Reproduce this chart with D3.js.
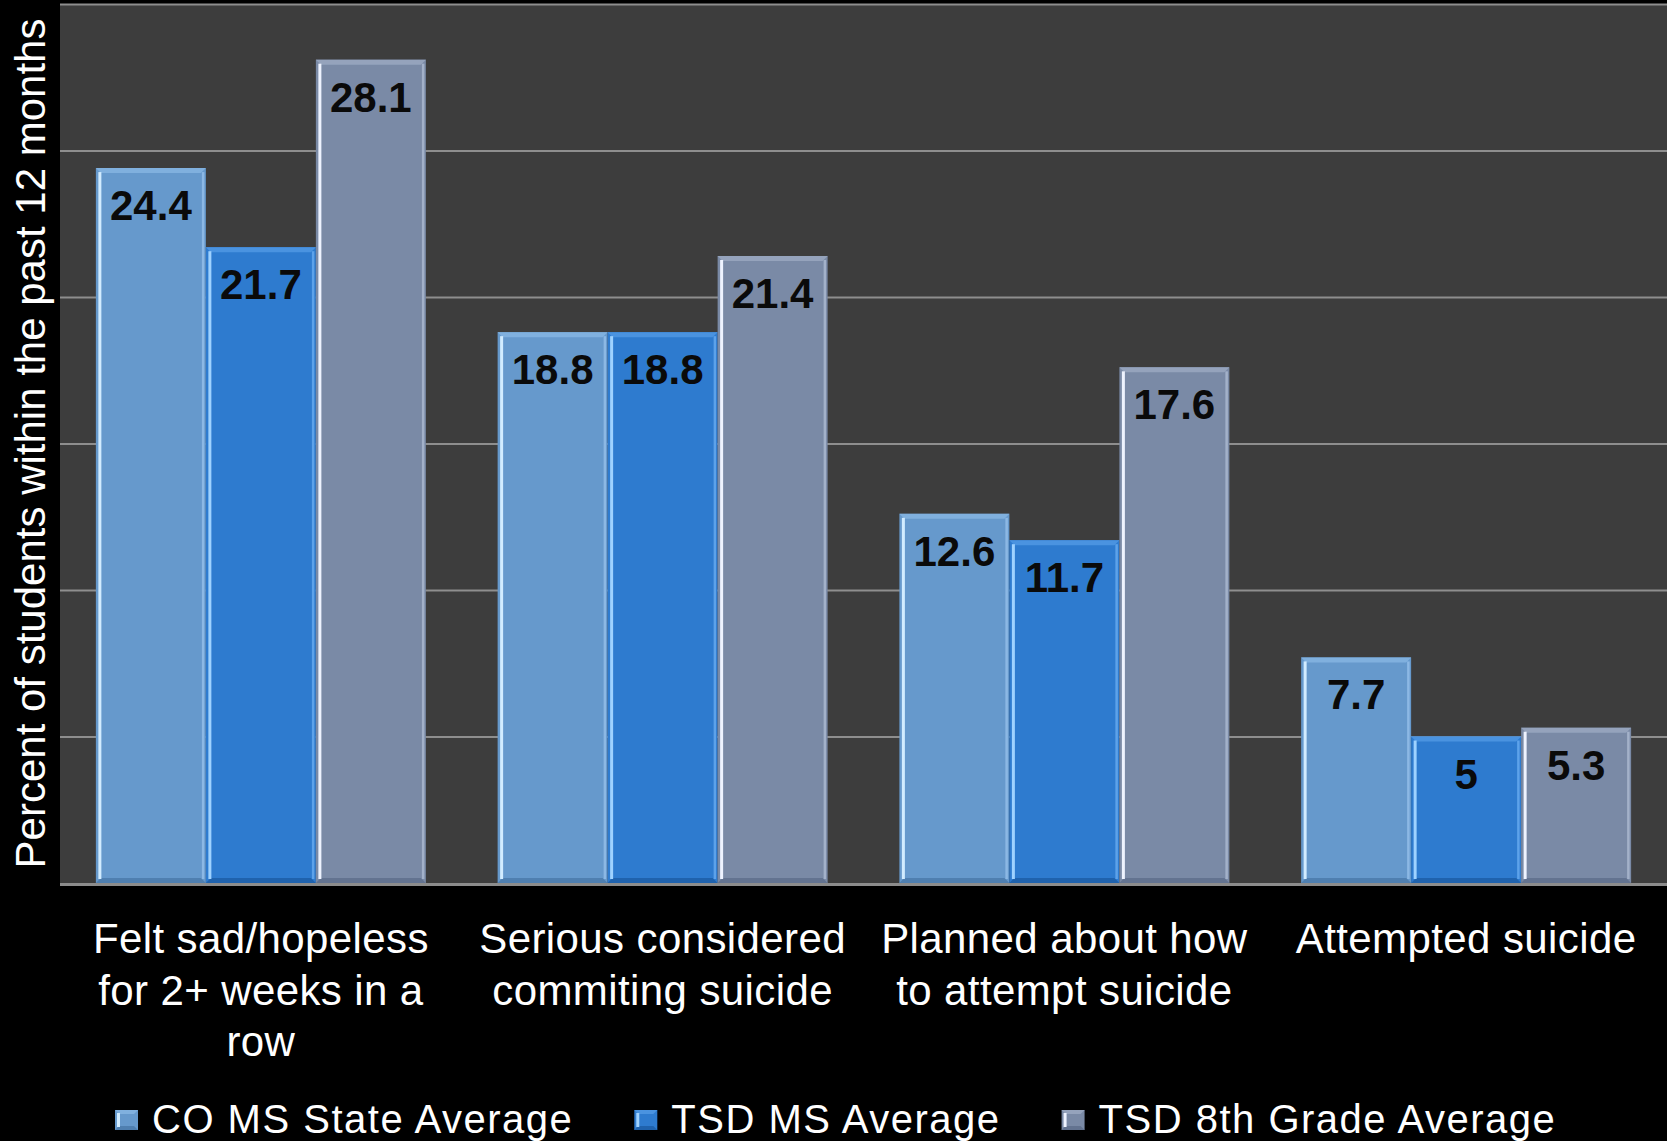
<!DOCTYPE html>
<html>
<head>
<meta charset="utf-8">
<script src="https://cdn.jsdelivr.net/npm/d3@7"></script>
<style>
  html, body { margin: 0; padding: 0; background: #000; }
  svg { display: block; }
</style>
</head>
<body>
<svg id="chart" width="1667" height="1141"></svg>
<script>
// ---- data ----
const categories = [
  "Felt sad/hopeless for 2+ weeks in a row",
  "Serious considered commiting suicide",
  "Planned about how to attempt suicide",
  "Attempted suicide"
];
const categoryLines = [
  ["Felt sad/hopeless", "for 2+ weeks in a", "row"],
  ["Serious considered", "commiting suicide"],
  ["Planned about how", "to attempt suicide"],
  ["Attempted suicide"]
];
const seriesNames = ["CO MS State Average", "TSD MS Average", "TSD 8th Grade Average"];
const coStateAvg = [24.4, 18.8, 12.6, 7.7];
const tsdMsAvg = [21.7, 18.8, 11.7, 5];
const tsd8thAvg = [28.1, 21.4, 17.6, 5.3];
const yTicks = [0, 5, 10, 15, 20, 25, 30];
const yTitle = "Percent of students within the past 12 months";

// ---- styles ----
const fills = ["#6699cc", "#2e7bcf", "#7a8aa6"];
const highlights = ["#d2ecff", "#9fd2ff", "#eef3ff"];
const topBevel = ["#80b0de", "#4a93e0", "#95a3bc"];
const bottomBevel = ["#4f7fb0", "#1f62ad", "#637390"];
const rightEdge = ["#8cb8e4", "#5da2ea", "#a3b1c9"];

const svg = d3.select("#chart");
const W = 1667, H = 1141;
const plot = { left: 60, right: 1667, top: 4, bottom: 883 };

svg.append("rect").attr("x", 0).attr("y", 0).attr("width", W).attr("height", H).attr("fill", "#000");
svg.append("rect")
  .attr("x", plot.left).attr("y", plot.top)
  .attr("width", plot.right - plot.left).attr("height", plot.bottom - plot.top)
  .attr("fill", "#3d3d3d");

const x0 = d3.scaleBand().domain(categories).range([plot.left, plot.right])
  .paddingInner(0.1786).paddingOuter(0.0893);
const x1 = d3.scaleBand().domain(seriesNames).range([0, x0.bandwidth()]).padding(0);
const y = d3.scaleLinear().domain([0, 30]).range([plot.bottom, plot.top]);

// gridlines
const gridAxis = d3.axisLeft(y).tickValues(yTicks.filter(t => t > 0))
  .tickSize(-(plot.right - plot.left)).tickFormat("");
const gg = svg.append("g").attr("transform", `translate(${plot.left},0)`).call(gridAxis);
gg.select(".domain").remove();
gg.selectAll(".tick line").attr("stroke", "#8e8e8e").attr("stroke-width", 2);

// bars
const seriesVals = [coStateAvg, tsdMsAvg, tsd8thAvg];
const barData = [];
categories.forEach((c, ci) => {
  seriesNames.forEach((s, si) => {
    barData.push({ cat: c, ser: s, si, v: seriesVals[si][ci] });
  });
});

const bars = svg.append("g").selectAll("g.bar").data(barData).join("g").attr("class", "bar");
bars.each(function (d) {
  const g = d3.select(this);
  const bx = x0(d.cat) + x1(d.ser);
  const bw = x1.bandwidth();
  const by = y(d.v);
  const bh = y(0) - by;
  g.append("rect").attr("x", bx).attr("y", by).attr("width", bw).attr("height", bh).attr("fill", fills[d.si]);
  g.append("path")
    .attr("d", `M${bx},${by}H${bx + bw}L${bx + bw - 5},${by + 5}H${bx + 5}Z`)
    .attr("fill", topBevel[d.si]);
  g.append("path")
    .attr("d", `M${bx},${by + bh}H${bx + bw}L${bx + bw - 5},${by + bh - 5}H${bx + 5}Z`)
    .attr("fill", bottomBevel[d.si]);
  g.append("rect").attr("x", bx + bw - 4).attr("y", by + 4).attr("width", 2.5).attr("height", bh - 8)
    .attr("fill", rightEdge[d.si]);
  g.append("rect").attr("x", bx + 2.5).attr("y", by + 4).attr("width", 3).attr("height", bh - 8)
    .attr("fill", highlights[d.si]);
  g.append("text")
    .attr("x", bx + bw / 2).attr("y", by + 52)
    .attr("text-anchor", "middle")
    .attr("font-family", "'Liberation Sans', Arial, sans-serif")
    .attr("font-weight", "bold")
    .attr("font-size", 42)
    .attr("fill", "#0a0a0a")
    .text(d.v);
});

// x axis baseline
svg.append("line").attr("x1", plot.left).attr("x2", plot.right)
  .attr("y1", plot.bottom + 1.5).attr("y2", plot.bottom + 1.5)
  .attr("stroke", "#8c8c8c").attr("stroke-width", 3);

// category labels
const catG = svg.append("g");
categories.forEach((c, ci) => {
  const cx = x0(c) + x0.bandwidth() / 2;
  const t = catG.append("text")
    .attr("text-anchor", "middle")
    .attr("font-family", "'Liberation Sans', Arial, sans-serif")
    .attr("font-size", 42)
    .attr("letter-spacing", 0.4)
    .attr("fill", "#fff");
  categoryLines[ci].forEach((ln, li) => {
    t.append("tspan").attr("x", cx).attr("y", 953 + li * 51.5).text(ln);
  });
});

// y title
svg.append("text")
  .attr("transform", `translate(45,${(plot.top + plot.bottom) / 2}) rotate(-90)`)
  .attr("text-anchor", "middle")
  .attr("font-family", "'Liberation Sans', Arial, sans-serif")
  .attr("font-size", 42)
  .attr("fill", "#fff")
  .text(yTitle);

// legend
const leg = svg.append("g");
let lx = 115;
seriesNames.forEach((s, si) => {
  const sw = leg.append("g");
  sw.append("rect").attr("x", lx).attr("y", 1110).attr("width", 23).attr("height", 20).attr("fill", fills[si]);
  sw.append("path").attr("d", `M${lx},${1110}H${lx + 23}L${lx + 19},${1114}H${lx + 4}Z`).attr("fill", topBevel[si]);
  sw.append("path").attr("d", `M${lx},${1130}H${lx + 23}L${lx + 19},${1126}H${lx + 4}Z`).attr("fill", bottomBevel[si]);
  sw.append("rect").attr("x", lx + 2).attr("y", 1113).attr("width", 3).attr("height", 14).attr("fill", highlights[si]);
  const t = leg.append("text")
    .attr("x", lx + 37).attr("y", 1133)
    .attr("font-family", "'Liberation Sans', Arial, sans-serif")
    .attr("font-size", 40)
    .attr("letter-spacing", 1.5)
    .attr("fill", "#fff")
    .text(s);
  const tw = t.node().getComputedTextLength();
  lx = lx + 37 + tw + 61;
});
</script>
</body>
</html>
